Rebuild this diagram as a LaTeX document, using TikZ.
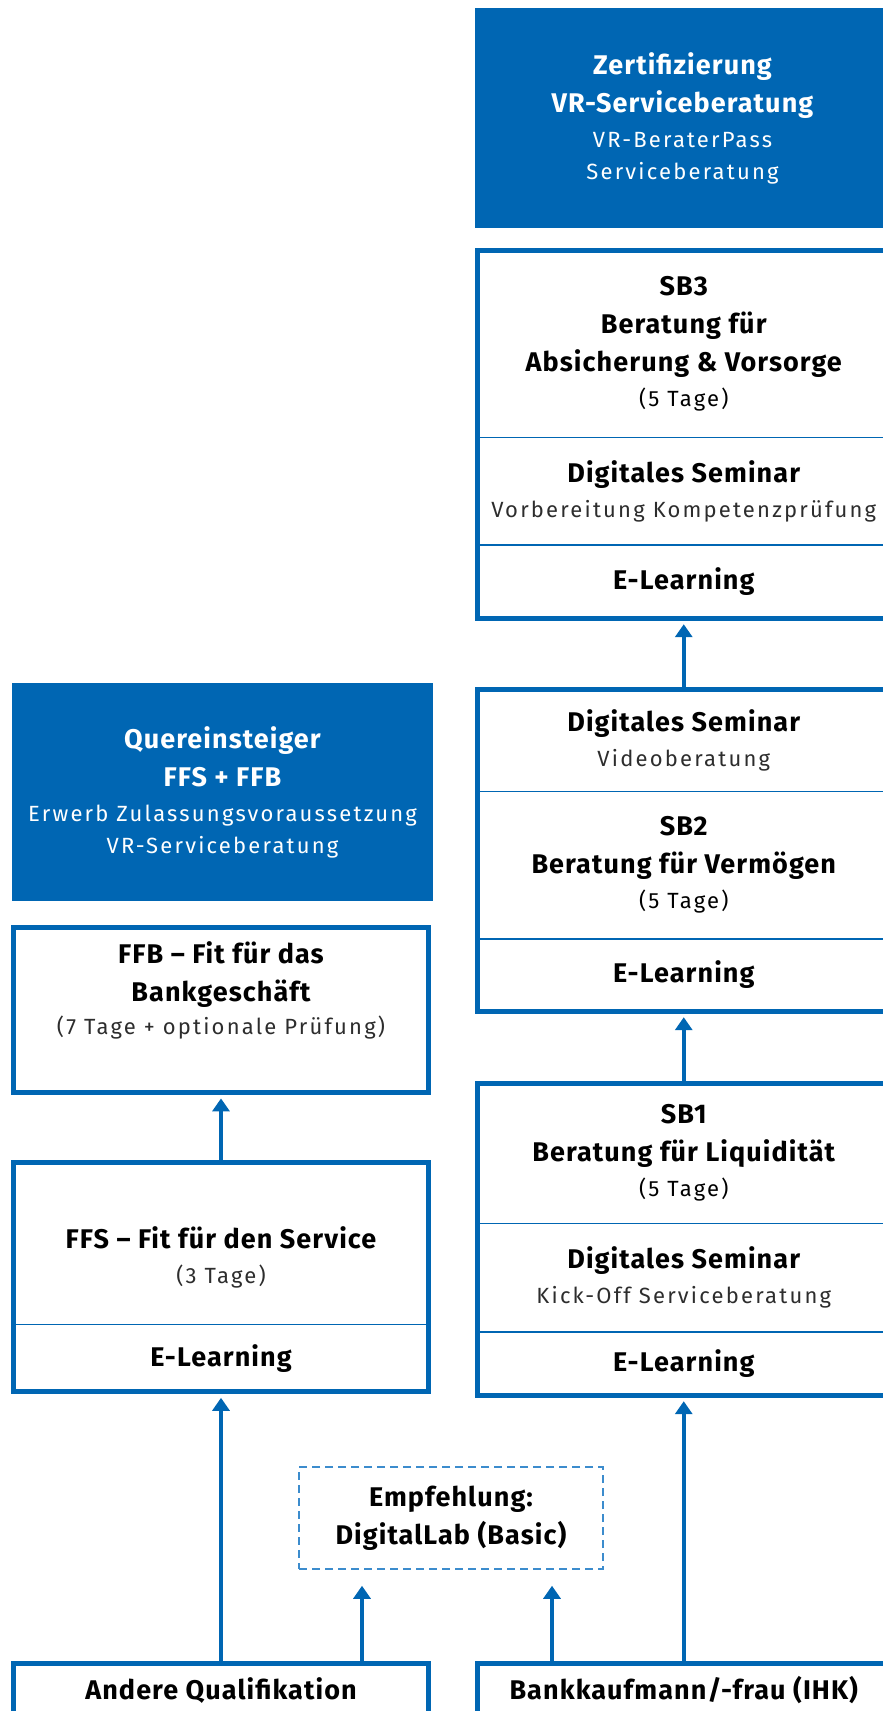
\documentclass[tikz,border=0pt]{standalone}
\usepackage{fontspec}
\setmainfont[LetterSpace=4]{Fira Sans}
\newfontfamily\leicht[LetterSpace=10]{Fira Sans}
\usetikzlibrary{arrows.meta}

\definecolor{vrblau}{RGB}{0,102,179}
\definecolor{vrhell}{RGB}{60,140,205}
\definecolor{grautext}{RGB}{45,45,45}

\newcommand{\unter}[1]{{\leicht\mdseries\fontsize{22}{32}\selectfont #1}}

\tikzset{
  abschnitt/.style={rectangle, inner sep=0pt, align=center, text=black,
    font=\fontsize{27}{38}\selectfont\bfseries},
  rechts/.style={abschnitt, minimum width=412.5pt, anchor=north},
  links/.style={abschnitt, minimum width=415pt, anchor=north},
  blau/.style={abschnitt, fill=vrblau, text=white},
  rahmen/.style={draw=vrblau, line width=5pt},
  trenner/.style={draw=vrblau, line width=1.5pt},
  pfeil/.style={vrblau, line width=4.5pt, -{Triangle[width=17pt,length=13pt]}, shorten >=6pt},
  empf/.style={abschnitt, draw=vrhell, line width=1.5pt, dash pattern=on 8pt off 5pt,
    minimum width=304pt, minimum height=102pt},
}

\begin{document}
\begin{tikzpicture}[x=1pt, y=-1pt]
  \useasboundingbox (0,0) rectangle (883,1711);

  % Zertifizierung
  \node[blau, minimum width=415pt, minimum height=220pt] (zert) at (682.5,118)
    {Zertifizierung\\VR-Serviceberatung\\[-3pt]\unter{VR-BeraterPass}\\[-6pt]\unter{Serviceberatung}};

  % SB3
  \node[rechts, minimum height=186.5pt] (sb3a) at (683.75,250.5)
    {SB3\\Beratung für\\Absicherung \& Vorsorge\\[-3pt]\unter{(5 Tage)}};
  \node[rechts, minimum height=107pt] (sb3b) at (sb3a.south)
    {Digitales Seminar\\[-3pt]\unter{\color{grautext}Vorbereitung Kompetenzprüfung}};
  \node[rechts, minimum height=73pt] (sb3c) at (sb3b.south) {E-Learning};
  \draw[trenner] (sb3a.south west) -- (sb3a.south east);
  \draw[trenner] (sb3b.south west) -- (sb3b.south east);
  \draw[rahmen] (sb3a.north west) rectangle (sb3c.south east);

  % SB2
  \node[rechts, minimum height=102pt] (sb2a) at (683.75,689)
    {Digitales Seminar\\[-3pt]\unter{\color{grautext}Videoberatung}};
  \node[rechts, minimum height=147pt] (sb2b) at (sb2a.south)
    {SB2\\Beratung für Vermögen\\[-3pt]\unter{(5 Tage)}};
  \node[rechts, minimum height=72pt] (sb2c) at (sb2b.south) {E-Learning};
  \draw[trenner] (sb2a.south west) -- (sb2a.south east);
  \draw[trenner] (sb2b.south west) -- (sb2b.south east);
  \draw[rahmen] (sb2a.north west) rectangle (sb2c.south east);

  % SB1
  \node[rechts, minimum height=140pt] (sb1a) at (683.75,1083)
    {SB1\\Beratung für Liquidität\\[-3pt]\unter{(5 Tage)}};
  \node[rechts, minimum height=108pt] (sb1b) at (sb1a.south)
    {Digitales Seminar\\[-3pt]\unter{\color{grautext}Kick-Off Serviceberatung}};
  \node[rechts, minimum height=63pt] (sb1c) at (sb1b.south) {E-Learning};
  \draw[trenner] (sb1a.south west) -- (sb1a.south east);
  \draw[trenner] (sb1b.south west) -- (sb1b.south east);
  \draw[rahmen] (sb1a.north west) rectangle (sb1c.south east);

  % Quereinsteiger
  \node[blau, minimum width=421pt, minimum height=218pt] (quer) at (222.5,792)
    {Quereinsteiger\\FFS + FFB\\[-3pt]\unter{Erwerb Zulassungsvoraussetzung}\\[-6pt]\unter{VR-Serviceberatung}};

  % FFB
  \node[links, minimum height=165pt] (ffb) at (221,927) {};
  \node[abschnitt, yshift=19pt] (ffbtext) at (ffb)
    {FFB -- Fit für das\\Bankgeschäft\\[-5pt]\unter{\color{grautext}(7 Tage + optionale Prüfung)}};
  \draw[rahmen] (ffb.north west) rectangle (ffb.south east);

  % FFS
  \node[links, minimum height=162pt] (ffs) at (221,1162) {};
  \node[abschnitt, yshift=-14pt] (ffstext) at (ffs)
    {FFS -- Fit für den Service\\[-3pt]\unter{\color{grautext}(3 Tage)}};
  \node[links, minimum height=67pt] (ffsb) at (ffs.south) {E-Learning};
  \draw[trenner] (ffs.south west) -- (ffs.south east);
  \draw[rahmen] (ffs.north west) rectangle (ffsb.south east);

  % Empfehlung
  \node[empf] (empfehlung) at (451,1518) {Empfehlung:\\DigitalLab (Basic)};

  % Einstieg
  \node[links, minimum height=54pt] (andere) at (221,1663) {Andere Qualifikation};
  \draw[rahmen] (andere.north west) rectangle (andere.south east);
  \node[rechts, minimum height=54pt] (bank) at (683.75,1663) {Bankkaufmann/-frau (IHK)};
  \draw[rahmen] (bank.north west) rectangle (bank.south east);

  % Pfeile
  \draw[pfeil] (sb2a.north) -- (sb3c.south);
  \draw[pfeil] (sb1a.north) -- (sb2c.south);
  \draw[pfeil] (bank.north) -- (sb1c.south);
  \draw[pfeil] (ffs.north) -- (ffb.south);
  \draw[pfeil] (andere.north) -- (ffsb.south);
  \draw[pfeil, shorten >=16pt] ([xshift=141pt]andere.north) -- ([xshift=-89pt]empfehlung.south);
  \draw[pfeil, shorten >=16pt] ([xshift=-131.75pt]bank.north) -- ([xshift=101pt]empfehlung.south);

\end{tikzpicture}
\end{document}
